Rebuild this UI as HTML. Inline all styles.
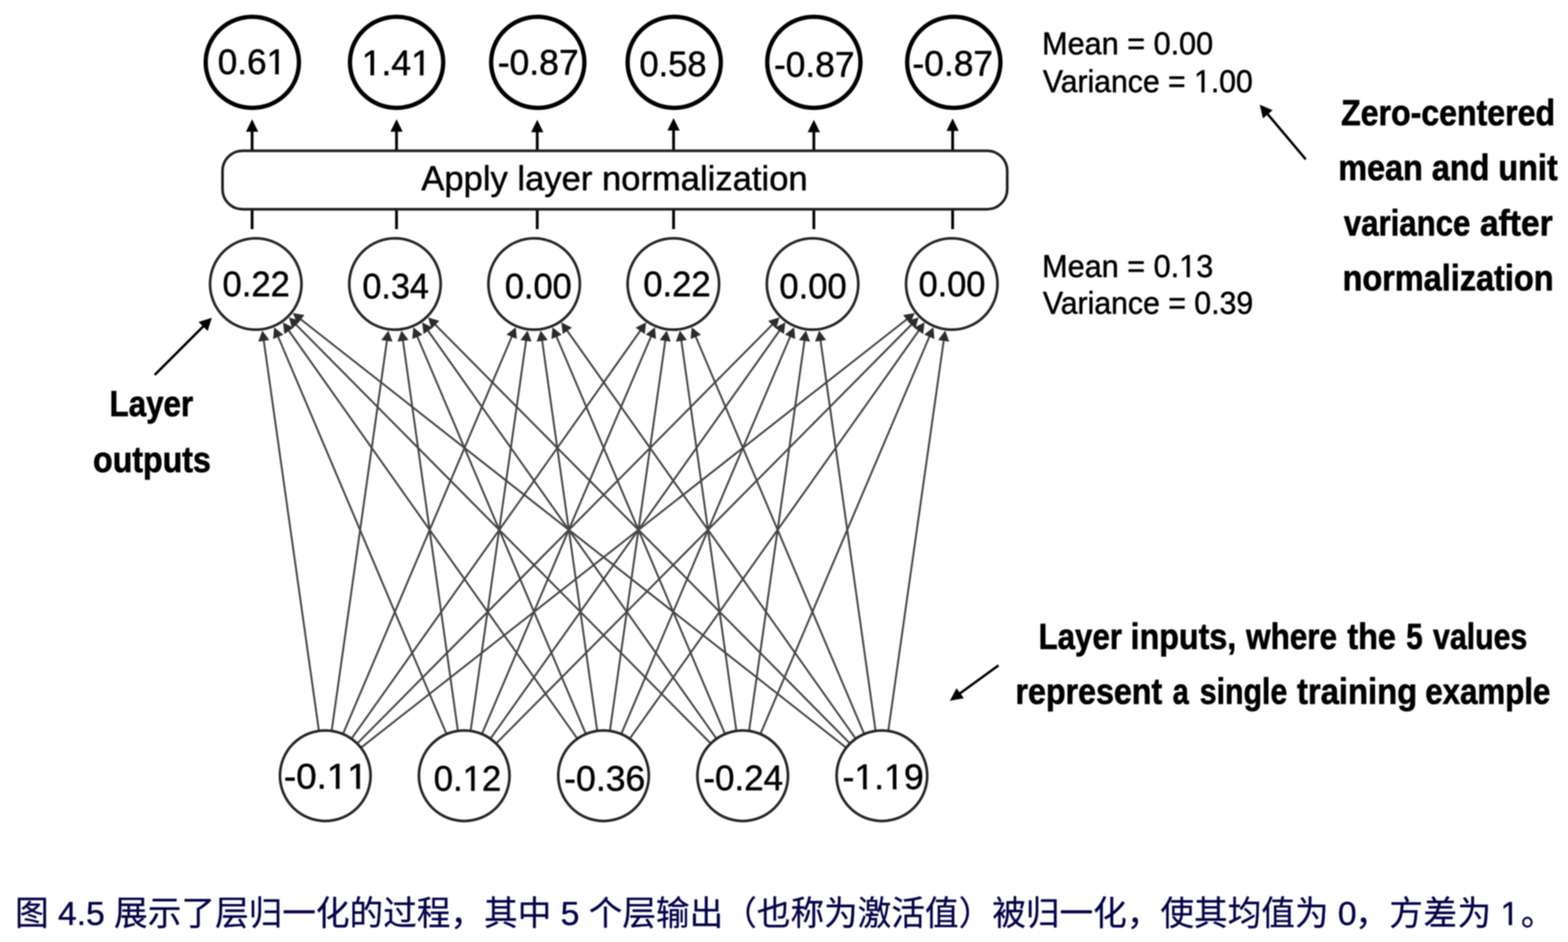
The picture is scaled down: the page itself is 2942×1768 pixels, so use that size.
<!DOCTYPE html>
<html lang="zh"><head><meta charset="utf-8"><title>Figure 4.5 Layer normalization</title>
<style>
html,body{margin:0;padding:0;background:#fff;overflow:hidden}
body{position:relative;width:2942px;height:1768px;overflow:hidden;font-family:"Liberation Sans",sans-serif}
svg{display:block}
svg text{font-family:"Liberation Sans",sans-serif}
svg text.cjk{font-family:"Liberation Sans","Noto Sans CJK SC",sans-serif}
.cap{position:absolute;left:28px;top:1680px;width:2890px;height:72px;overflow:hidden;font-size:63px;line-height:70px;white-space:nowrap;color:transparent;font-family:"Liberation Sans","Noto Sans CJK SC",sans-serif}
</style></head>
<body>
<svg width="2942" height="1768" viewBox="0 0 2942 1768" style="filter:blur(1.1px)">
<rect width="2942" height="1768" fill="#fff"/>
<g stroke="#454545" stroke-width="3.6" fill="none">
<path d="M598.2 1370.25L494.7 637.76"/>
<path d="M622.44 1370.26L726.25 637.75"/>
<path d="M644.11 1376.28L960.85 630.38"/>
<path d="M660.27 1385.29L1202.28 619.36"/>
<path d="M671.18 1394.45L1450.14 608.16"/>
<path d="M678.34 1402.48L1702.58 598.33"/>
<path d="M837.25 1376.26L521.18 630.41"/>
<path d="M858.94 1370.24L755.85 637.77"/>
<path d="M883.17 1370.26L987.31 637.75"/>
<path d="M904.85 1376.3L1222 630.36"/>
<path d="M920.99 1385.31L1463.45 619.34"/>
<path d="M931.89 1394.47L1711.32 608.14"/>
<path d="M1082.46 1385.27L540.98 619.39"/>
<path d="M1098.63 1376.26L782.4 630.41"/>
<path d="M1120.32 1370.25L1016.98 637.76"/>
<path d="M1144.56 1370.26L1248.53 637.75"/>
<path d="M1166.23 1376.29L1483.22 630.37"/>
<path d="M1182.38 1385.3L1724.67 619.35"/>
<path d="M1332.65 1394.43L554.33 608.19"/>
<path d="M1343.57 1385.27L802.17 619.39"/>
<path d="M1359.73 1376.26L1043.5 630.41"/>
<path d="M1381.43 1370.25L1278.17 637.76"/>
<path d="M1405.67 1370.26L1509.72 637.75"/>
<path d="M1427.34 1376.29L1744.41 630.37"/>
<path d="M1586.68 1402.46L563.1 598.36"/>
<path d="M1593.85 1394.43L815.53 608.19"/>
<path d="M1604.76 1385.27L1063.28 619.39"/>
<path d="M1620.93 1376.26L1304.7 630.41"/>
<path d="M1642.63 1370.25L1539.37 637.76"/>
<path d="M1666.87 1370.26L1770.92 637.75"/>
</g>
<path fill="#2a2c2f" d="M492.25 620.43L505.38 638.27L484.58 641.21ZM728.71 620.43L736.37 641.21L715.58 638.26ZM967.69 614.28L969.73 636.33L950.4 628.12ZM1212.39 605.08L1209.7 627.06L1192.56 614.93ZM1462.46 595.73L1456.19 616.97L1441.27 602.19ZM1716.35 587.53L1707.49 607.83L1694.53 591.31ZM514.35 614.3L531.63 628.16L512.29 636.35ZM753.41 620.44L766.52 638.28L745.73 641.21ZM989.77 620.42L997.42 641.2L976.63 638.25ZM1228.85 614.26L1230.88 636.31L1211.56 628.1ZM1473.57 605.06L1470.87 627.04L1453.73 614.9ZM1723.64 595.71L1717.37 616.95L1702.45 602.17ZM530.88 605.1L550.71 614.96L533.56 627.08ZM775.57 614.29L792.85 628.15L773.51 636.35ZM1014.53 620.43L1027.66 638.28L1006.86 641.21ZM1250.99 620.42L1258.65 641.21L1237.85 638.25ZM1490.06 614.27L1492.1 636.32L1472.77 628.11ZM1734.78 605.07L1732.08 627.05L1714.94 614.91ZM542.02 595.75L563.2 602.22L548.28 617ZM792.07 605.1L811.9 614.97L794.75 627.09ZM1036.67 614.29L1053.95 628.15L1034.61 636.35ZM1275.73 620.44L1288.84 638.28L1268.05 641.21ZM1512.18 620.42L1519.83 641.21L1499.04 638.25ZM1751.26 614.26L1753.29 636.32L1733.97 628.1ZM549.34 587.55L571.16 591.34L558.18 607.85ZM803.22 595.75L824.4 602.22L809.48 617ZM1053.18 605.1L1073.01 614.96L1055.86 627.08ZM1297.87 614.29L1315.15 628.15L1295.81 636.35ZM1536.93 620.44L1550.04 638.28L1529.25 641.21ZM1773.38 620.42L1781.03 641.21L1760.24 638.25Z"/>
<g fill="#fff" stroke="#262626" stroke-width="5">
<circle cx="479.9" cy="533" r="85.8"/>
<circle cx="741.1" cy="533" r="85.8"/>
<circle cx="1002.2" cy="533" r="85.8"/>
<circle cx="1263.4" cy="533" r="85.8"/>
<circle cx="1524.6" cy="533" r="85.8"/>
<circle cx="1785.8" cy="533" r="85.8"/>
<circle cx="610.3" cy="1455.9" r="85"/>
<circle cx="871" cy="1455.9" r="85"/>
<circle cx="1132.4" cy="1455.9" r="85"/>
<circle cx="1393.5" cy="1455.9" r="85"/>
<circle cx="1654.7" cy="1455.9" r="85"/>
</g>
<g fill="#fff" stroke="#000" stroke-width="8">
<ellipse cx="473.4" cy="117" rx="87.5" ry="85.4"/>
<ellipse cx="744.1" cy="117" rx="87.5" ry="85.4"/>
<ellipse cx="1009" cy="117" rx="87.5" ry="85.4"/>
<ellipse cx="1265" cy="117" rx="87.5" ry="85.4"/>
<ellipse cx="1527" cy="117" rx="87.5" ry="85.4"/>
<ellipse cx="1789.6" cy="117" rx="87.5" ry="85.4"/>
</g>
<g stroke="#000" stroke-width="5.2" fill="#000">
<path d="M473 283V243.7" fill="none"/><path stroke="none" d="M473 223.7L461.5 247.2L484.5 247.2Z"/><path d="M473 392.8V430" fill="none"/>
<path d="M744 283V243.7" fill="none"/><path stroke="none" d="M744 223.7L732.5 247.2L755.5 247.2Z"/><path d="M744 392.8V430" fill="none"/>
<path d="M1008 283V244.7" fill="none"/><path stroke="none" d="M1008 224.7L996.5 248.2L1019.5 248.2Z"/><path d="M1008 392.8V430" fill="none"/>
<path d="M1263.8 283V241.5" fill="none"/><path stroke="none" d="M1263.8 221.5L1252.3 245L1275.3 245Z"/><path d="M1263.8 392.8V430" fill="none"/>
<path d="M1527 283V244.7" fill="none"/><path stroke="none" d="M1527 224.7L1515.5 248.2L1538.5 248.2Z"/><path d="M1527 392.8V430" fill="none"/>
<path d="M1787.4 283V242.2" fill="none"/><path stroke="none" d="M1787.4 222.2L1775.9 245.7L1798.9 245.7Z"/><path d="M1787.4 392.8V430" fill="none"/>
</g>
<rect x="417.5" y="283" width="1472.3" height="109.8" rx="37.5" ry="37.5" fill="#fff" stroke="#1f1f1f" stroke-width="5"/>
<path d="M290.3 703.6L381.84 612.06" stroke="#000" stroke-width="4.6" fill="none"/><path d="M397.4 596.5L389.62 621.25L372.65 604.28Z" fill="#000"/>
<path d="M2449.9 298.9L2378.1 213.7" stroke="#000" stroke-width="4.6" fill="none"/><path d="M2363.6 196.5L2387.84 206.8L2369.64 222.14Z" fill="#000"/>
<path d="M1873.4 1248.9L1800.8 1301.68" stroke="#000" stroke-width="4.5" fill="none"/><path d="M1782.2 1315.2L1794.79 1291.71L1808.43 1310.47Z" fill="#000"/>
<g fill="#000">
<text transform="translate(408.47 139.34) scale(0.9916 1)" font-size="66.5" font-weight="400" stroke="#000" stroke-width="0.9" stroke-linejoin="round" style="font-kerning:none" textLength="129.43" lengthAdjust="spacingAndGlyphs">0.61</text>
<text transform="translate(678.73 140.89) scale(1.0032 1)" font-size="66.5" font-weight="400" stroke="#000" stroke-width="0.9" stroke-linejoin="round" style="font-kerning:none" textLength="129.42" lengthAdjust="spacingAndGlyphs">1.41</text>
<text transform="translate(933.89 140.14) scale(1.0016 1)" font-size="66.5" font-weight="400" stroke="#000" stroke-width="0.9" stroke-linejoin="round" style="font-kerning:none" textLength="151.57" lengthAdjust="spacingAndGlyphs">-0.87</text>
<text transform="translate(1199.72 142.59) scale(0.9730 1)" font-size="66.5" font-weight="400" stroke="#000" stroke-width="0.9" stroke-linejoin="round" style="font-kerning:none" textLength="129.41" lengthAdjust="spacingAndGlyphs">0.58</text>
<text transform="translate(1452.2 144.04) scale(0.9967 1)" font-size="66.5" font-weight="400" stroke="#000" stroke-width="0.9" stroke-linejoin="round" style="font-kerning:none" textLength="151.55" lengthAdjust="spacingAndGlyphs">-0.87</text>
<text transform="translate(1712 142.34) scale(0.9974 1)" font-size="66.5" font-weight="400" stroke="#000" stroke-width="0.9" stroke-linejoin="round" style="font-kerning:none" textLength="151.57" lengthAdjust="spacingAndGlyphs">-0.87</text>
<text transform="translate(417.62 556.49) scale(0.9758 1)" font-size="66.5" font-weight="400" stroke="#000" stroke-width="0.9" stroke-linejoin="round" style="font-kerning:none" textLength="129.42" lengthAdjust="spacingAndGlyphs">0.22</text>
<text transform="translate(679.94 560.14) scale(0.9649 1)" font-size="66.5" font-weight="400" stroke="#000" stroke-width="0.9" stroke-linejoin="round" style="font-kerning:none" textLength="129.41" lengthAdjust="spacingAndGlyphs">0.34</text>
<text transform="translate(947.13 559.54) scale(0.9708 1)" font-size="66.5" font-weight="400" stroke="#000" stroke-width="0.9" stroke-linejoin="round" style="font-kerning:none" textLength="129.39" lengthAdjust="spacingAndGlyphs">0.00</text>
<text transform="translate(1206.91 556.49) scale(0.9774 1)" font-size="66.5" font-weight="400" stroke="#000" stroke-width="0.9" stroke-linejoin="round" style="font-kerning:none" textLength="129.42" lengthAdjust="spacingAndGlyphs">0.22</text>
<text transform="translate(1462.32 559.89) scale(0.9756 1)" font-size="66.5" font-weight="400" stroke="#000" stroke-width="0.9" stroke-linejoin="round" style="font-kerning:none" textLength="129.43" lengthAdjust="spacingAndGlyphs">0.00</text>
<text transform="translate(1723.43 556.49) scale(0.9700 1)" font-size="66.5" font-weight="400" stroke="#000" stroke-width="0.9" stroke-linejoin="round" style="font-kerning:none" textLength="129.41" lengthAdjust="spacingAndGlyphs">0.00</text>
<text transform="translate(532.68 1479.94) scale(1.0377 1)" font-size="66.5" font-weight="400" stroke="#000" stroke-width="0.9" stroke-linejoin="round" style="font-kerning:none" textLength="151.55" lengthAdjust="spacingAndGlyphs">-0.11</text>
<text transform="translate(813.71 1483.74) scale(0.9791 1)" font-size="66.5" font-weight="400" stroke="#000" stroke-width="0.9" stroke-linejoin="round" style="font-kerning:none" textLength="129.41" lengthAdjust="spacingAndGlyphs">0.12</text>
<text transform="translate(1058.48 1484.29) scale(1.0048 1)" font-size="66.5" font-weight="400" stroke="#000" stroke-width="0.9" stroke-linejoin="round" style="font-kerning:none" textLength="151.54" lengthAdjust="spacingAndGlyphs">-0.36</text>
<text transform="translate(1319.73 1483.24) scale(0.9872 1)" font-size="66.5" font-weight="400" stroke="#000" stroke-width="0.9" stroke-linejoin="round" style="font-kerning:none" textLength="151.54" lengthAdjust="spacingAndGlyphs">-0.24</text>
<text transform="translate(1580.78 1481.24) scale(1.0064 1)" font-size="66.5" font-weight="400" stroke="#000" stroke-width="0.9" stroke-linejoin="round" style="font-kerning:none" textLength="151.56" lengthAdjust="spacingAndGlyphs">-1.19</text>
<text transform="translate(790.5 357.2) scale(0.9983 1)" font-size="65" font-weight="400" stroke="#000" stroke-width="0.9" stroke-linejoin="round" textLength="726.10" lengthAdjust="spacingAndGlyphs">Apply layer normalization</text>
<text transform="translate(1955.3 102) scale(0.9739 1)" font-size="59" font-weight="400" stroke="#000" stroke-width="0.9" stroke-linejoin="round" textLength="329.57" lengthAdjust="spacingAndGlyphs">Mean = 0.00</text>
<text transform="translate(1956.63 172.7) scale(0.9598 1)" font-size="59" font-weight="400" stroke="#000" stroke-width="0.9" stroke-linejoin="round" textLength="410.46" lengthAdjust="spacingAndGlyphs">Variance = 1.00</text>
<text transform="translate(1955.3 519.7) scale(0.9741 1)" font-size="59" font-weight="400" stroke="#000" stroke-width="0.9" stroke-linejoin="round" textLength="329.63" lengthAdjust="spacingAndGlyphs">Mean = 0.13</text>
<text transform="translate(1956.63 588.6) scale(0.9612 1)" font-size="59" font-weight="400" stroke="#000" stroke-width="0.9" stroke-linejoin="round" textLength="410.51" lengthAdjust="spacingAndGlyphs">Variance = 0.39</text>
<text transform="translate(2516.19 234.7) scale(0.8727 1)" font-size="69" font-weight="700" stroke="#000" stroke-width="1.2" stroke-linejoin="round" textLength="460.09" lengthAdjust="spacingAndGlyphs">Zero-centered</text>
<text transform="translate(2511.05 337.5) scale(0.8802 1)" font-size="69" font-weight="700" stroke="#000" stroke-width="1.2" stroke-linejoin="round" textLength="467.62" lengthAdjust="spacingAndGlyphs">mean and unit</text>
<text transform="translate(2521.52 442.3) scale(0.8475 1)" font-size="69" font-weight="700" stroke="#000" stroke-width="1.2" stroke-linejoin="round" textLength="279.97" lengthAdjust="spacingAndGlyphs">variance</text>
<text transform="translate(2776.91 442.3) scale(0.9113 1)" font-size="69" font-weight="700" stroke="#000" stroke-width="1.2" stroke-linejoin="round" textLength="149.54" lengthAdjust="spacingAndGlyphs">after</text>
<text transform="translate(2518.94 544.7) scale(0.8828 1)" font-size="69" font-weight="700" stroke="#000" stroke-width="1.2" stroke-linejoin="round" textLength="448.51" lengthAdjust="spacingAndGlyphs">normalization</text>
<text transform="translate(1948.7 1218.2) scale(0.8493 1)" font-size="69" font-weight="700" stroke="#000" stroke-width="1.2" stroke-linejoin="round" textLength="184.09" lengthAdjust="spacingAndGlyphs">Layer</text>
<text transform="translate(2121.37 1218.2) scale(0.8760 1)" font-size="69" font-weight="700" stroke="#000" stroke-width="1.2" stroke-linejoin="round" textLength="226.14" lengthAdjust="spacingAndGlyphs">inputs,</text>
<text transform="translate(2338 1218.2) scale(0.8559 1)" font-size="69" font-weight="700" stroke="#000" stroke-width="1.2" stroke-linejoin="round" textLength="199.42" lengthAdjust="spacingAndGlyphs">where</text>
<text transform="translate(2527.89 1218.2) scale(0.8825 1)" font-size="69" font-weight="700" stroke="#000" stroke-width="1.2" stroke-linejoin="round" textLength="103.48" lengthAdjust="spacingAndGlyphs">the</text>
<text transform="translate(2638.44 1218.2) scale(0.8029 1)" font-size="69" font-weight="700" stroke="#000" stroke-width="1.2" stroke-linejoin="round" textLength="38.37" lengthAdjust="spacingAndGlyphs">5</text>
<text transform="translate(2688.83 1218.2) scale(0.8227 1)" font-size="69" font-weight="700" stroke="#000" stroke-width="1.2" stroke-linejoin="round" textLength="214.74" lengthAdjust="spacingAndGlyphs">values</text>
<text transform="translate(1905.27 1320.6) scale(0.8757 1)" font-size="69" font-weight="700" stroke="#000" stroke-width="1.2" stroke-linejoin="round" textLength="314.44" lengthAdjust="spacingAndGlyphs">represent</text>
<text transform="translate(2200.17 1320.6) scale(0.7875 1)" font-size="69" font-weight="700" stroke="#000" stroke-width="1.2" stroke-linejoin="round" textLength="38.38" lengthAdjust="spacingAndGlyphs">a</text>
<text transform="translate(2251.03 1320.6) scale(0.8237 1)" font-size="69" font-weight="700" stroke="#000" stroke-width="1.2" stroke-linejoin="round" textLength="199.37" lengthAdjust="spacingAndGlyphs">single</text>
<text transform="translate(2433.48 1320.6) scale(0.8918 1)" font-size="69" font-weight="700" stroke="#000" stroke-width="1.2" stroke-linejoin="round" textLength="252.93" lengthAdjust="spacingAndGlyphs">training</text>
<text transform="translate(2674.25 1320.6) scale(0.8500 1)" font-size="69" font-weight="700" stroke="#000" stroke-width="1.2" stroke-linejoin="round" textLength="276.10" lengthAdjust="spacingAndGlyphs">example</text>
<text transform="translate(205.48 781) scale(0.8527 1)" font-size="69" font-weight="700" stroke="#000" stroke-width="1.2" stroke-linejoin="round" textLength="184.10" lengthAdjust="spacingAndGlyphs">Layer</text>
<text transform="translate(174.59 886.3) scale(0.8740 1)" font-size="69" font-weight="700" stroke="#000" stroke-width="1.2" stroke-linejoin="round" textLength="252.86" lengthAdjust="spacingAndGlyphs">outputs</text>
</g>
<g fill="#03034a">
<text x="108.83" y="1736" font-size="63.1" stroke="#03034a" stroke-width="0.7" textLength="87.72" lengthAdjust="spacingAndGlyphs">4.5</text>
<text x="1051.91" y="1736" font-size="63.1" stroke="#03034a" stroke-width="0.7" textLength="35.09" lengthAdjust="spacingAndGlyphs">5</text>
<text x="2510.27" y="1736" font-size="63.1" stroke="#03034a" stroke-width="0.7" textLength="35.09" lengthAdjust="spacingAndGlyphs">0</text>
<text x="2815.29" y="1736" font-size="63.1" stroke="#03034a" stroke-width="0.7" textLength="35.09" lengthAdjust="spacingAndGlyphs">1</text>
<text class="cjk" x="28.2" y="1736" font-size="63.1" stroke="#03034a" stroke-width="0.5">图</text>
<text class="cjk" x="214.08" y="1736" font-size="63.1" stroke="#03034a" stroke-width="0.5" textLength="820.3" lengthAdjust="spacing">展示了层归一化的过程，其中</text>
<text class="cjk" x="1104.54" y="1736" font-size="63.1" stroke="#03034a" stroke-width="0.5" textLength="1388.2" lengthAdjust="spacing">个层输出（也称为激活值）被归一化，使其均值为</text>
<text class="cjk" x="2542.86" y="1736" font-size="63.1" stroke="#03034a" stroke-width="0.5" textLength="254.9" lengthAdjust="spacing">，方差为</text>
<text class="cjk" x="2853.38" y="1736" font-size="63.1" stroke="#03034a" stroke-width="0.5">。</text>
</g>
<g fill="#fff">
<path transform="translate(408.47 139.34) scale(0.9916 1)" d="M96.05 -6.22H108.66V1.45H96.05ZM115.53 -6.22H127.62V1.45H115.53Z"/>
<path transform="translate(678.73 140.89) scale(1.0032 1)" d="M3.62 -6.22H16.22V1.45H3.62ZM23.1 -6.22H35.19V1.45H23.1Z"/>
<path transform="translate(678.73 140.89) scale(1.0032 1)" d="M96.03 -6.22H108.64V1.45H96.03ZM115.51 -6.22H127.6V1.45H115.51Z"/>
<path transform="translate(532.68 1479.94) scale(1.0377 1)" d="M81.2 -6.22H93.81V1.45H81.2ZM100.69 -6.22H112.77V1.45H100.69Z"/>
<path transform="translate(532.68 1479.94) scale(1.0377 1)" d="M118.17 -6.22H130.78V1.45H118.17ZM137.65 -6.22H149.74V1.45H137.65Z"/>
<path transform="translate(813.71 1483.74) scale(0.9791 1)" d="M59.05 -6.22H71.66V1.45H59.05ZM78.54 -6.22H90.62V1.45H78.54Z"/>
<path transform="translate(1580.78 1481.24) scale(1.0064 1)" d="M25.75 -6.22H38.35V1.45H25.75ZM45.23 -6.22H57.32V1.45H45.23Z"/>
<path transform="translate(1580.78 1481.24) scale(1.0064 1)" d="M81.19 -6.22H93.8V1.45H81.19ZM100.68 -6.22H112.77V1.45H100.68Z"/>
<path transform="translate(1956.63 172.7) scale(0.9598 1)" d="M298.69 -5.66H309.98V1.45H298.69ZM316.2 -5.66H327.03V1.45H316.2Z"/>
<path transform="translate(1955.3 519.7) scale(0.9741 1)" d="M267.03 -5.66H278.33V1.45H267.03ZM284.54 -5.66H295.37V1.45H284.54Z"/>
<path d="M2818.75 1730.14H2830.76V1737.35H2818.75ZM2837.13 1730.14H2848.65V1737.35H2837.13Z"/>
</g>
</svg>
<div class="cap">图 4.5 展示了层归一化的过程，其中 5 个层输出（也称为激活值）被归一化，使其均值为 0，方差为 1。</div>
</body></html>
